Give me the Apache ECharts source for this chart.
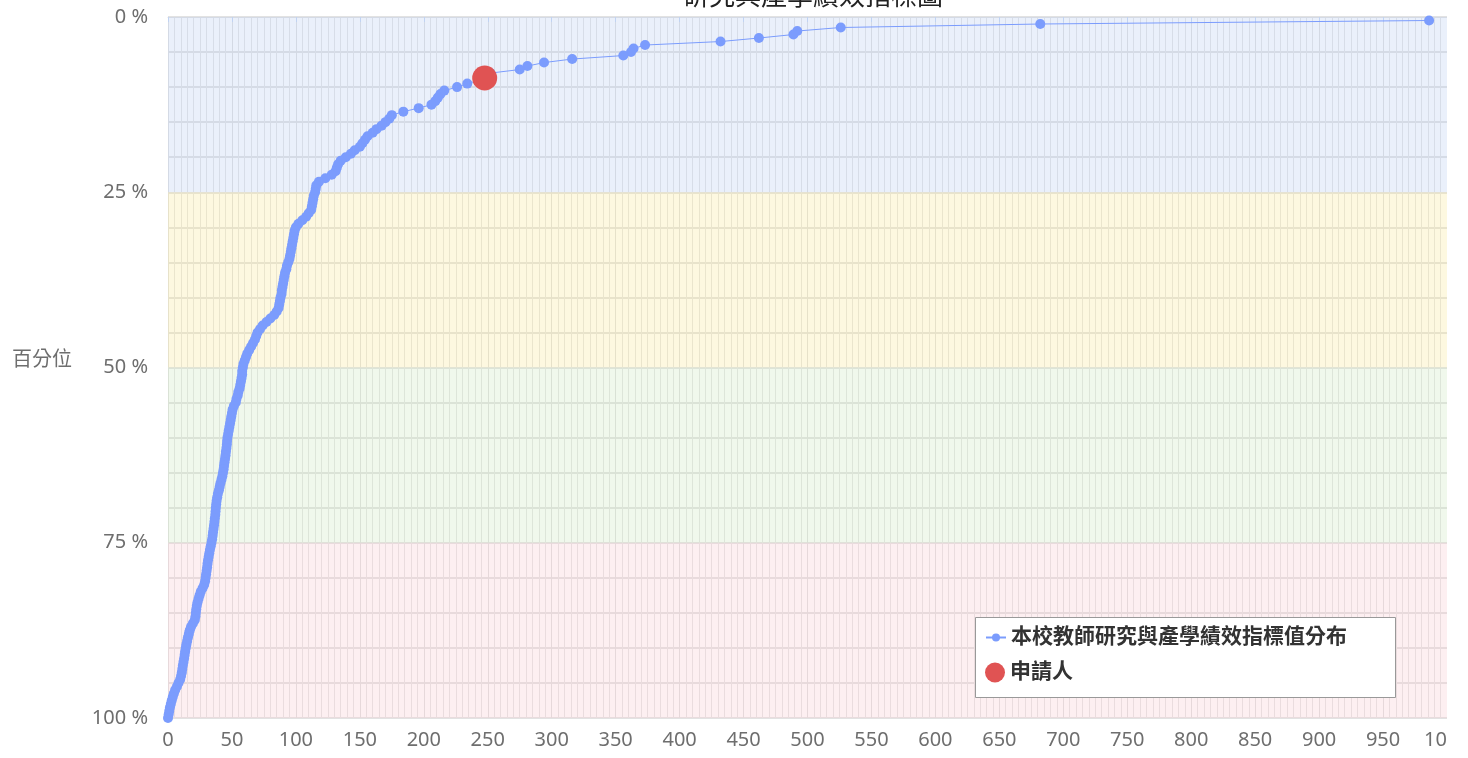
<!DOCTYPE html>
<html>
<head>
<meta charset="utf-8">
<script src="https://cdn.jsdelivr.net/npm/echarts@6/dist/echarts.min.js"></script>
<style>
  html, body { margin: 0; padding: 0; background: #fff; }
  #chart { width: 1447px; height: 758px; }
</style>
</head>
<body>
<div id="chart"></div>
<script>
// 教師績效值 (x) 與其百分位 (y)
const perfValues = [
  986, 682, 526, 492, 489, 462, 432, 373, 364, 362,
  356, 316, 294, 281, 275, 252, 248, 244, 234, 226,
  216, 213, 211, 209, 206, 196, 184, 175, 173, 170,
  167, 163, 160, 156, 154, 152, 150, 146, 143, 139,
  135, 133, 132, 131, 128, 123, 118, 116, 115.5, 115,
  114, 113.5, 113, 112.5, 112, 110, 108, 105, 102, 100,
  99, 98.5, 98, 97.5, 97, 96.5, 96, 95.5, 95, 94,
  93, 92.5, 91.5, 91, 90.5, 90, 89.5, 89, 88.8, 88,
  87.5, 87, 86.5, 85, 83, 80, 77, 74, 72, 70,
  69, 68, 66.5, 65, 63.5, 62, 61, 60, 59, 58.5,
  58, 58, 57.5, 57, 56.5, 56, 55, 54.5, 53.5, 53,
  51.5, 50.5, 50, 49.5, 49, 48.5, 48, 47.5, 47, 46.5,
  46.2, 46, 45.7, 45.3, 45, 44.6, 44.2, 43.8, 43.5, 43,
  42.5, 41.8, 41, 40.4, 39.8, 39, 38.5, 38, 37.7, 37.4,
  37.2, 37, 36.6, 36.3, 36, 35.6, 35.2, 34.9, 34.5, 34,
  33.4, 32.8, 32.3, 31.8, 31.3, 30.9, 30.6, 30.2, 29.8, 29.4,
  29, 28.3, 27, 25.6, 24.7, 23.9, 23.1, 22.5, 22.1, 21.8,
  21.5, 21, 19.5, 18, 17, 16.3, 15.6, 15, 14.4, 13.9,
  13.4, 13, 12.6, 12.1, 11.6, 11.2, 10.8, 10.2, 9.5, 8.2,
  7, 5.6, 4.6, 3.7, 2.9, 2.2, 1.5, 1, 0.5, 0
]
const percentiles = [
  0.5, 1, 1.5, 2, 2.5, 3, 3.5, 4, 4.5, 5,
  5.5, 6, 6.5, 7, 7.5, 8, 8.5, 9, 9.5, 10,
  10.5, 11, 11.5, 12, 12.5, 13, 13.5, 14, 14.5, 15,
  15.5, 16, 16.5, 17, 17.5, 18, 18.5, 19, 19.5, 20,
  20.5, 21, 21.5, 22, 22.5, 23, 23.5, 24, 24.5, 25,
  25.5, 26, 26.5, 27, 27.5, 28, 28.5, 29, 29.5, 30,
  30.5, 31, 31.5, 32, 32.5, 33, 33.5, 34, 34.5, 35,
  35.5, 36, 36.5, 37, 37.5, 38, 38.5, 39, 39.5, 40,
  40.5, 41, 41.5, 42, 42.5, 43, 43.5, 44, 44.5, 45,
  45.5, 46, 46.5, 47, 47.5, 48, 48.5, 49, 49.5, 50,
  50.5, 51, 51.5, 52, 52.5, 53, 53.5, 54, 54.5, 55,
  55.5, 56, 56.5, 57, 57.5, 58, 58.5, 59, 59.5, 60,
  60.5, 61, 61.5, 62, 62.5, 63, 63.5, 64, 64.5, 65,
  65.5, 66, 66.5, 67, 67.5, 68, 68.5, 69, 69.5, 70,
  70.5, 71, 71.5, 72, 72.5, 73, 73.5, 74, 74.5, 75,
  75.5, 76, 76.5, 77, 77.5, 78, 78.5, 79, 79.5, 80,
  80.5, 81, 81.5, 82, 82.5, 83, 83.5, 84, 84.5, 85,
  85.5, 86, 86.5, 87, 87.5, 88, 88.5, 89, 89.5, 90,
  90.5, 91, 91.5, 92, 92.5, 93, 93.5, 94, 94.5, 95,
  95.5, 96, 96.5, 97, 97.5, 98, 98.5, 99, 99.5, 100
]
const applicant = [247.6, 8.7]
const bands = [[0, 25], [25, 50], [50, 75], [75, 100]]
const bandColors = ['rgba(185,205,242,0.3)', 'rgba(248,232,152,0.3)', 'rgba(205,232,192,0.3)', 'rgba(248,202,208,0.3)']

const font = '"Noto Sans", "Noto Sans CJK TC", sans-serif'
let chart = echarts.init(document.getElementById('chart'))
let facultyData = perfValues.map((v, i) => [v, percentiles[i]])

let legendText = { fontFamily: font, fontSize: 21, fontWeight: 'bold', color: '#333' }

let option = {
  animation: false,
  title: {
    text: '研究與產學績效指標圖',
    left: 808,
    textAlign: 'center',
    top: -20,
    textStyle: { fontFamily: font, fontSize: 26, fontWeight: 'normal', color: '#222' }
  },
  grid: { left: 168, right: 0, top: 17, bottom: 40, containLabel: false, outerBoundsMode: 'none' },
  // 圖例外框
  graphic: [{
    type: 'rect',
    left: 975,
    top: 617,
    z: 3,
    silent: true,
    shape: { width: 420, height: 80 },
    style: { fill: '#fff', stroke: '#999', lineWidth: 1 }
  }],
  legend: [
    {
      left: 985,
      top: 627,
      padding: 0,
      itemWidth: 20,
      itemHeight: 10,
      textStyle: legendText,
      data: ['本校教師研究與產學績效指標值分布']
    },
    {
      left: 985,
      top: 662,
      padding: 0,
      itemWidth: 20,
      itemHeight: 21,
      textStyle: legendText,
      data: [{ name: '申請人', icon: 'circle' }]
    }
  ],
  xAxis: {
    type: 'value',
    min: 0,
    max: 1000,
    interval: 50,
    axisLine: { lineStyle: { color: '#e0e0e0', width: 1 } },
    axisTick: { show: true, length: 5, lineStyle: { color: '#c4d6f2' } },
    axisLabel: { fontFamily: font, fontSize: 20, color: '#6e6e6e', margin: 12, formatter: v => String(v) },
    splitLine: { show: true, lineStyle: { color: '#dedede' } },
    minorSplitLine: { show: true, lineStyle: { color: '#e4e4e4' } },
    minorTick: { show: false, splitNumber: 10 }
  },
  yAxis: {
    type: 'value',
    inverse: true,
    min: 0,
    max: 100,
    interval: 25,
    name: '百分位',
    nameLocation: 'middle',
    nameRotate: 0,
    nameGap: 96,
    nameTextStyle: { fontFamily: font, fontSize: 20, color: '#6e6e6e', verticalAlign: 'bottom', lineHeight: 14 },
    axisLine: { show: true, lineStyle: { color: '#e0e0e0' } },
    axisTick: { show: false },
    axisLabel: { fontFamily: font, fontSize: 20, color: '#6e6e6e', margin: 20, formatter: '{value} %' },
    splitLine: { show: true, lineStyle: { color: '#d8d8d8', width: 1.5 } },
    minorSplitLine: { show: true, lineStyle: { color: '#d8d8d8', width: 1.5 } },
    minorTick: { show: false, splitNumber: 5 }
  },
  series: [
    {
      name: '本校教師研究與產學績效指標值分布',
      type: 'line',
      data: facultyData,
      symbol: 'circle',
      symbolSize: 10,
      showAllSymbol: true,
      itemStyle: { color: '#7b9cfd' },
      lineStyle: { width: 1, color: '#7b9cfd' },
      markArea: {
        silent: true,
        data: bands.map((b, i) => [
          { yAxis: b[0], itemStyle: { color: bandColors[i] } },
          { yAxis: b[1] }
        ])
      }
    },
    {
      name: '申請人',
      type: 'scatter',
      data: [applicant],
      symbol: 'circle',
      symbolSize: 25,
      itemStyle: { color: '#e05353', opacity: 1 },
      z: 5
    }
  ]
}
chart.setOption(option)
</script>
</body>
</html>
